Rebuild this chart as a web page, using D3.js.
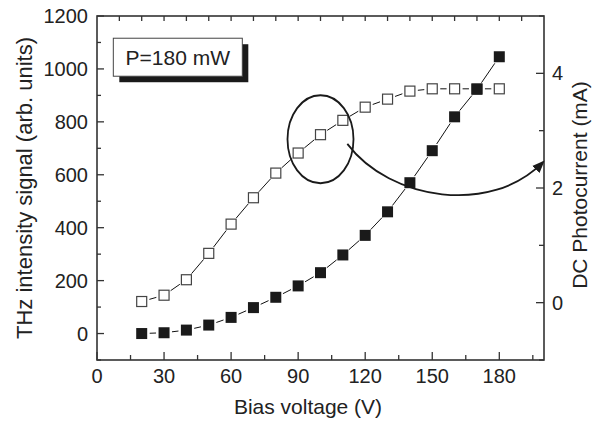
<!DOCTYPE html>
<html>
<head>
<meta charset="utf-8">
<script src="https://cdn.jsdelivr.net/npm/d3@7"></script>
<style>
    body { margin: 0; background: #fff; }
    text { font-family: "Liberation Sans", Arial, sans-serif; fill: #222; }
</style>
</head>
<body>
<div id="chart"></div>
<script>
// data
var biasVoltage = [20, 30, 40, 50, 60, 70, 80, 90, 100, 110, 120, 130, 140, 150, 160, 170, 180];
var thzSignal = [0, 3, 13, 32, 61, 98, 137, 180, 230, 297, 371, 460, 570, 691, 819, 923, 1046];
var photocurrent = [0.02, 0.13, 0.40, 0.86, 1.37, 1.83, 2.26, 2.61, 2.93, 3.18, 3.41, 3.55, 3.69, 3.73, 3.73, 3.73, 3.73];
var xTicks = [0, 30, 60, 90, 120, 150, 180];
var leftTicks = [0, 200, 400, 600, 800, 1000, 1200];
var rightTicks = [0, 2, 4];
var legendText = "P=180 mW";

var width = 593, height = 421;
var margin = {top: 16, right: 49, bottom: 61, left: 97};

var svg = d3.select("#chart").append("svg")
    .attr("width", width)
    .attr("height", height);

var x = d3.scaleLinear().domain([0, 200]).range([margin.left, width - margin.right]);
var yL = d3.scaleLinear().domain([-100, 1200]).range([height - margin.bottom, margin.top]);
var yR = d3.scaleLinear().domain([-1, 5]).range([height - margin.bottom, margin.top]);

var x0 = x.range()[0], x1 = x.range()[1];
var y0 = yL.range()[0], y1 = yL.range()[1];

// ticks (all inward)
var g = svg.append("g").attr("stroke", "#333").attr("stroke-width", 1.3);
d3.range(0, 201, 15).forEach(function (v) {
    var len = (v % 30 === 0) ? 8 : 5;
    g.append("line").attr("x1", x(v)).attr("x2", x(v)).attr("y1", y0).attr("y2", y0 - len);
});
d3.range(10, 200, 10).forEach(function (v) {
    g.append("line").attr("x1", x(v)).attr("x2", x(v)).attr("y1", y1).attr("y2", y1 + 5);
});
d3.range(-100, 1201, 100).forEach(function (v) {
    var len = (v % 200 === 0) ? 7 : 4;
    g.append("line").attr("x1", x0).attr("x2", x0 + len).attr("y1", yL(v)).attr("y2", yL(v));
});
d3.range(-1, 5.01, 1).forEach(function (v) {
    var len = (v % 2 === 0) ? 8 : 5;
    g.append("line").attr("x1", x1).attr("x2", x1 - len).attr("y1", yR(v)).attr("y2", yR(v));
});

// frame
svg.append("rect")
    .attr("x", x0).attr("y", y1)
    .attr("width", x1 - x0).attr("height", y0 - y1)
    .attr("fill", "none").attr("stroke", "#333").attr("stroke-width", 1.6);

// tick labels
svg.append("g").selectAll("text").data(xTicks).enter().append("text")
    .attr("x", function (d) { return x(d); })
    .attr("y", y0 + 23)
    .attr("text-anchor", "middle")
    .style("font-size", "20px")
    .text(function (d) { return d; });
svg.append("g").selectAll("text").data(leftTicks).enter().append("text")
    .attr("x", x0 - 9)
    .attr("y", function (d) { return yL(d) + 7; })
    .attr("text-anchor", "end")
    .style("font-size", "20px")
    .text(function (d) { return d; });
svg.append("g").selectAll("text").data(rightTicks).enter().append("text")
    .attr("x", x1 + 8)
    .attr("y", function (d) { return yR(d) + 7; })
    .attr("text-anchor", "start")
    .style("font-size", "20px")
    .text(function (d) { return d; });

// axis titles
svg.append("text")
    .attr("x", 308).attr("y", 414)
    .attr("text-anchor", "middle")
    .style("font-size", "21px")
    .text("Bias voltage (V)");
svg.append("text")
    .attr("transform", "translate(32," + ((y0 + y1) / 2) + ") rotate(-90)")
    .attr("text-anchor", "middle")
    .style("font-size", "22px")
    .text("THz intensity signal (arb. units)");
svg.append("text")
    .attr("transform", "translate(587," + ((y0 + y1) / 2 - 3) + ") rotate(-90)")
    .attr("text-anchor", "middle")
    .style("font-size", "21px")
    .text("DC Photocurrent (mA)");

// connecting lines with gaps at the markers
function gapLines(pts, gap) {
    var lg = svg.append("g").attr("stroke", "#111").attr("stroke-width", 1);
    for (var i = 0; i < pts.length - 1; i++) {
        var a = pts[i], b = pts[i + 1];
        var dx = b[0] - a[0], dy = b[1] - a[1];
        var L = Math.sqrt(dx * dx + dy * dy);
        if (L <= 2 * gap) continue;
        var ux = dx / L, uy = dy / L;
        lg.append("line")
            .attr("x1", a[0] + ux * gap).attr("y1", a[1] + uy * gap)
            .attr("x2", b[0] - ux * gap).attr("y2", b[1] - uy * gap);
    }
}

var thzPts = biasVoltage.map(function (v, i) { return [x(v), yL(thzSignal[i])]; });
var dcPts = biasVoltage.map(function (v, i) { return [x(v), yR(photocurrent[i])]; });

gapLines(dcPts, 8);
gapLines(thzPts, 8);

var ms = 10;
svg.append("g").selectAll("rect").data(dcPts).enter().append("rect")
    .attr("x", function (d) { return d[0] - ms / 2; })
    .attr("y", function (d) { return d[1] - ms / 2; })
    .attr("width", ms).attr("height", ms)
    .attr("fill", "#fff").attr("stroke", "#444").attr("stroke-width", 1.2);
svg.append("g").selectAll("rect").data(thzPts).enter().append("rect")
    .attr("x", function (d) { return d[0] - ms / 2 - 0.5; })
    .attr("y", function (d) { return d[1] - ms / 2 - 0.5; })
    .attr("width", ms + 1).attr("height", ms + 1)
    .attr("fill", "#1a1a1a");

// legend box with shadow
var lx = x(7.3), ly = yL(1116), lw = 129, lh = 38;
svg.append("rect").attr("x", lx + 6).attr("y", ly + 6).attr("width", lw).attr("height", lh).attr("fill", "#1a1a1a");
svg.append("rect").attr("x", lx).attr("y", ly).attr("width", lw).attr("height", lh)
    .attr("fill", "#fff").attr("stroke", "#444").attr("stroke-width", 1);
svg.append("text").attr("x", lx + lw / 2).attr("y", ly + 27)
    .attr("text-anchor", "middle")
    .style("font-size", "21px")
    .text(legendText);

// ellipse around the photocurrent curve + arrow to the right axis
svg.append("ellipse")
    .attr("cx", x(100)).attr("cy", yR(2.85))
    .attr("rx", 33).attr("ry", 44)
    .attr("fill", "none").attr("stroke", "#1a1a1a").attr("stroke-width", 1.8);

svg.append("defs").append("marker")
    .attr("id", "head")
    .attr("viewBox", "0 0 10 10")
    .attr("refX", 8).attr("refY", 5)
    .attr("markerWidth", 7).attr("markerHeight", 7)
    .attr("orient", "auto")
    .append("path").attr("d", "M0,1 L10,5 L0,9 Z").attr("fill", "#1a1a1a");

var ax = x(112), ay = yR(2.77), bx = x(199.5), by = yR(2.45);
svg.append("path")
    .attr("d", "M" + ax + "," + ay + " C" + (ax + 43) + "," + (ay + 57) + " " + (bx - 51) + "," + (by + 53) + " " + bx + "," + by)
    .attr("fill", "none").attr("stroke", "#1a1a1a").attr("stroke-width", 1.8)
    .attr("marker-end", "url(#head)");
</script>
</body>
</html>
